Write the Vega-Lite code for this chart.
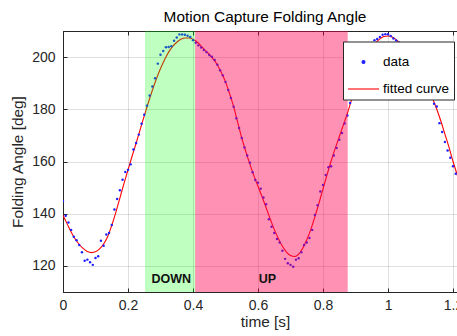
{
  "$schema": "https://vega.github.io/schema/vega-lite/v6.json",
  "autosize": {"type": "none"},
  "padding": {"left": 63, "top": 31, "right": 0, "bottom": 44},
  "width": 404,
  "height": 261,
  "background": "white",
  "title": {"text": "Motion Capture Folding Angle", "fontSize": 15.4, "fontWeight": "normal", "color": "#000000", "font": "Liberation Sans", "offset": 5, "anchor": "middle"},
  "datasets": {
    "dots": [
      {"t":0,"v":144.9},{"t":0.0083,"v":139.2},{"t":0.0167,"v":136.6},{"t":0.025,"v":133.8},{"t":0.0333,"v":131.2},{"t":0.0417,"v":129.8},{"t":0.05,"v":128},{"t":0.0583,"v":125.2},{"t":0.0667,"v":122},{"t":0.075,"v":122.4},
      {"t":0.0833,"v":121.4},{"t":0.0917,"v":120.4},{"t":0.1,"v":123},{"t":0.1083,"v":123.7},{"t":0.1167,"v":129.6},{"t":0.125,"v":127.7},{"t":0.1333,"v":132},{"t":0.1417,"v":132.6},{"t":0.15,"v":135.7},{"t":0.1583,"v":141.6},
      {"t":0.1667,"v":145.6},{"t":0.175,"v":149},{"t":0.1833,"v":153},{"t":0.1917,"v":156},{"t":0.2,"v":156.8},{"t":0.2083,"v":158.9},{"t":0.2167,"v":164.6},{"t":0.225,"v":167.1},{"t":0.2333,"v":170.3},{"t":0.2417,"v":174.5},
      {"t":0.25,"v":177.9},{"t":0.2583,"v":181.4},{"t":0.2667,"v":185.3},{"t":0.275,"v":188.7},{"t":0.2833,"v":191.9},{"t":0.2917,"v":197.5},{"t":0.3,"v":200.9},{"t":0.3083,"v":202.3},{"t":0.3167,"v":203.8},{"t":0.325,"v":203.9},
      {"t":0.3333,"v":204.2},{"t":0.3417,"v":206.3},{"t":0.35,"v":207.5},{"t":0.3583,"v":208.7},{"t":0.3667,"v":208.7},{"t":0.375,"v":208.6},{"t":0.3833,"v":208.2},{"t":0.3917,"v":207.7},{"t":0.4,"v":206.5},{"t":0.4083,"v":205.5},
      {"t":0.4167,"v":204.5},{"t":0.425,"v":203.7},{"t":0.4333,"v":202.7},{"t":0.4417,"v":201.9},{"t":0.45,"v":200.8},{"t":0.4583,"v":200.1},{"t":0.4667,"v":198.9},{"t":0.475,"v":197.1},{"t":0.4833,"v":195},{"t":0.4917,"v":193},
      {"t":0.5,"v":190.5},{"t":0.5083,"v":187.4},{"t":0.5167,"v":184.3},{"t":0.525,"v":181},{"t":0.5333,"v":176.6},{"t":0.5417,"v":172.8},{"t":0.55,"v":169},{"t":0.5583,"v":165.4},{"t":0.5667,"v":162.3},{"t":0.575,"v":159.5},
      {"t":0.5833,"v":155.9},{"t":0.5917,"v":152.9},{"t":0.6,"v":151.9},{"t":0.6083,"v":149.6},{"t":0.6167,"v":146.2},{"t":0.625,"v":143.6},{"t":0.6333,"v":137.9},{"t":0.6417,"v":135},{"t":0.65,"v":132.6},{"t":0.6583,"v":130.3},
      {"t":0.6667,"v":129},{"t":0.675,"v":125.8},{"t":0.6833,"v":122.7},{"t":0.6917,"v":121},{"t":0.7,"v":120.4},{"t":0.7083,"v":119.7},{"t":0.7167,"v":122.4},{"t":0.725,"v":122.9},{"t":0.7333,"v":125.2},{"t":0.7417,"v":128},
      {"t":0.75,"v":129},{"t":0.7583,"v":130.7},{"t":0.7667,"v":133.8},{"t":0.775,"v":139.5},{"t":0.7833,"v":143.2},{"t":0.7917,"v":148.5},{"t":0.8,"v":151},{"t":0.8083,"v":154.8},{"t":0.8167,"v":157.8},{"t":0.825,"v":158.2},
      {"t":0.8333,"v":162.3},{"t":0.8417,"v":165.2},{"t":0.85,"v":168.3},{"t":0.8583,"v":170.9},{"t":0.8667,"v":174.6},{"t":0.875,"v":177.6},{"t":0.8833,"v":182.4},{"t":0.8917,"v":186.2},{"t":0.9,"v":190},{"t":0.9083,"v":193.5},
      {"t":0.9167,"v":196.5},{"t":0.925,"v":199.3},{"t":0.9333,"v":201.8},{"t":0.9417,"v":203.8},{"t":0.95,"v":205.3},{"t":0.9583,"v":206.5},{"t":0.9667,"v":206.9},{"t":0.975,"v":207.7},{"t":0.9833,"v":208.6},{"t":0.9917,"v":208.8},
      {"t":1,"v":208.8},{"t":1.0083,"v":208.1},{"t":1.0167,"v":207.1},{"t":1.025,"v":206.4},{"t":1.0333,"v":205.6},{"t":1.0417,"v":204.5},{"t":1.05,"v":203.4},{"t":1.0583,"v":202},{"t":1.0667,"v":200.5},{"t":1.075,"v":198.8},
      {"t":1.0833,"v":197},{"t":1.0917,"v":195},{"t":1.1,"v":193},{"t":1.1083,"v":191},{"t":1.1167,"v":189.6},{"t":1.125,"v":188.7},{"t":1.1333,"v":185.8},{"t":1.1417,"v":182.1},{"t":1.15,"v":181.1},{"t":1.1583,"v":174.7},
      {"t":1.1667,"v":171.3},{"t":1.175,"v":167.5},{"t":1.1833,"v":164.2},{"t":1.1917,"v":161.4},{"t":1.2,"v":158.2},{"t":1.2083,"v":155.3},{"t":1.2167,"v":152}
    ],
    "curve": [
      {"t":0,"v":139.4},{"t":0.0125,"v":136.2},{"t":0.025,"v":133},{"t":0.0375,"v":130.3},{"t":0.05,"v":128.2},{"t":0.0625,"v":126.6},{"t":0.075,"v":125.5},{"t":0.0875,"v":125.1},{"t":0.1,"v":125.4},{"t":0.1125,"v":126.5},
      {"t":0.125,"v":128.4},{"t":0.1375,"v":131.3},{"t":0.15,"v":135.5},{"t":0.1625,"v":140.5},{"t":0.175,"v":146},{"t":0.1875,"v":151.5},{"t":0.2,"v":156.8},{"t":0.2125,"v":162},{"t":0.225,"v":167},{"t":0.2375,"v":172.3},
      {"t":0.25,"v":177.5},{"t":0.2625,"v":182.5},{"t":0.275,"v":187.3},{"t":0.2875,"v":191.7},{"t":0.3,"v":195.6},{"t":0.3125,"v":199},{"t":0.325,"v":201.9},{"t":0.3375,"v":204.1},{"t":0.35,"v":205.7},{"t":0.3625,"v":206.8},
      {"t":0.375,"v":207.3},{"t":0.3875,"v":207.3},{"t":0.4,"v":206.8},{"t":0.4125,"v":205.8},{"t":0.425,"v":204.2},{"t":0.4375,"v":202.6},{"t":0.45,"v":201},{"t":0.4625,"v":199.2},{"t":0.475,"v":197},{"t":0.4875,"v":194},
      {"t":0.5,"v":190.5},{"t":0.5125,"v":186},{"t":0.525,"v":181},{"t":0.5375,"v":175},{"t":0.55,"v":169},{"t":0.5625,"v":163.8},{"t":0.575,"v":159},{"t":0.5875,"v":154.5},{"t":0.6,"v":150.5},{"t":0.6125,"v":146.5},
      {"t":0.625,"v":142.3},{"t":0.6375,"v":138},{"t":0.65,"v":134},{"t":0.6625,"v":130.5},{"t":0.675,"v":127.5},{"t":0.6875,"v":125.3},{"t":0.7,"v":124},{"t":0.7125,"v":123.6},{"t":0.725,"v":124.5},{"t":0.7375,"v":126.8},
      {"t":0.75,"v":130},{"t":0.7625,"v":134},{"t":0.775,"v":138.8},{"t":0.7875,"v":144},{"t":0.8,"v":149.5},{"t":0.8125,"v":155},{"t":0.825,"v":160.2},{"t":0.8375,"v":165},{"t":0.85,"v":169.5},{"t":0.8625,"v":174},
      {"t":0.875,"v":178.5},{"t":0.8875,"v":183.5},{"t":0.9,"v":188.5},{"t":0.9125,"v":193},{"t":0.925,"v":197},{"t":0.9375,"v":200.5},{"t":0.95,"v":203.3},{"t":0.9625,"v":205.5},{"t":0.975,"v":207},{"t":0.9875,"v":207.9},
      {"t":1,"v":208.1},{"t":1.0125,"v":207.7},{"t":1.025,"v":206.7},{"t":1.0375,"v":205.3},{"t":1.05,"v":203.5},{"t":1.0625,"v":201.3},{"t":1.075,"v":198.7},{"t":1.0875,"v":195.8},{"t":1.1,"v":192.5},{"t":1.1125,"v":190},
      {"t":1.125,"v":187.3},{"t":1.1375,"v":184},{"t":1.15,"v":180},{"t":1.1625,"v":175.5},{"t":1.175,"v":170.5},{"t":1.1875,"v":165.5},{"t":1.2,"v":160},{"t":1.2125,"v":155},{"t":1.225,"v":149.5}
    ],
    "phases": [
      {"phase":"DOWN","start":0.2523,"end":0.4065,"lx":0.333,"ly":114.9},
      {"phase":"UP","start":0.4065,"end":0.876,"lx":0.6287,"ly":114.9}
    ]
  },
  "layer": [
    {
      "data": {"name": "curve"},
      "mark": {"type": "line", "strokeWidth": 1.1, "interpolate": "monotone", "clip": true},
      "encoding": {
        "x": {"field": "t", "type": "quantitative", "scale": {"domain": [0, 1.243], "nice": false, "zero": false},
              "axis": {"orient": "bottom", "values": [0, 0.2, 0.4, 0.6, 0.8, 1, 1.2], "format": "~g", "title": "time [s]", "grid": true}},
        "y": {"field": "v", "type": "quantitative", "scale": {"domain": [110, 210], "nice": false, "zero": false},
              "axis": {"values": [120, 140, 160, 180, 200], "title": "Folding Angle [deg]", "grid": true, "titleX": -38}},
        "color": {"datum": "fitted curve", "type": "nominal",
                  "scale": {"domain": ["data", "fitted curve"], "range": ["#1f1fff", "#ff0000"]},
                  "legend": {
                    "orient": "none", "legendX": 280, "legendY": 10.5, "title": null,
                    "fillColor": "white", "strokeColor": "#262626", "padding": 4,
                    "labelFontSize": 13.5, "labelFont": "Liberation Sans", "labelColor": "#000000",
                    "labelOffset": 3, "rowPadding": 4, "symbolSize": 961, "symbolStrokeWidth": 1.1,
                    "encode": {"symbols": {"update": {
                      "shape": {"signal": "datum.value === 'data' ? 'circle' : 'stroke'"},
                      "size": {"signal": "datum.value === 'data' ? 9 : 961"},
                      "fill": {"signal": "datum.value === 'data' ? '#1f1fff' : 'transparent'"},
                      "stroke": {"signal": "datum.value === 'data' ? 'transparent' : '#ff0000'"},
                      "strokeWidth": {"value": 1.1},
                      "opacity": {"value": 1}
                    }}}
                  }}
      }
    },
    {
      "data": {"name": "dots"},
      "mark": {"type": "point", "filled": true, "size": 6, "opacity": 1, "clip": true},
      "encoding": {
        "x": {"field": "t", "type": "quantitative", "axis": null},
        "y": {"field": "v", "type": "quantitative"},
        "color": {"datum": "data", "type": "nominal"}
      }
    },
    {
      "data": {"name": "phases"},
      "mark": {"type": "rect"},
      "encoding": {
        "x": {"field": "start", "type": "quantitative",
              "axis": {"orient": "top", "values": [0, 0.2, 0.4, 0.6, 0.8, 1, 1.2], "labels": false, "title": null, "grid": false}},
        "x2": {"field": "end"},
        "y": {"datum": 110, "type": "quantitative"},
        "y2": {"datum": 210},
        "fill": {"condition": {"test": "datum.phase === 'DOWN'", "value": "#00ff00"}, "value": "#ff0050"},
        "fillOpacity": {"condition": {"test": "datum.phase === 'DOWN'", "value": 0.25}, "value": 0.43}
      }
    },
    {
      "data": {"name": "phases"},
      "mark": {"type": "text", "fontWeight": "bold", "fontSize": 12.5, "font": "Liberation Sans", "color": "#111111", "align": "center", "baseline": "middle"},
      "encoding": {
        "x": {"field": "lx", "type": "quantitative", "axis": null},
        "y": {"field": "ly", "type": "quantitative"},
        "text": {"field": "phase"}
      }
    }
  ],
  "resolve": {"axis": {"x": "independent"}},
  "config": {
    "font": "Liberation Sans",
    "view": {"stroke": "#262626", "strokeWidth": 1},
    "axis": {
      "zindex": 1,
      "domainColor": "#262626",
      "tickColor": "#262626",
      "tickSize": -4,
      "labelFontSize": 14,
      "labelColor": "#262626",
      "labelFont": "Liberation Sans",
      "titleFontSize": 15.4,
      "titleFontWeight": "normal",
      "titleColor": "#262626",
      "titleFont": "Liberation Sans",
      "gridColor": "#262626",
      "gridOpacity": 0.15,
      "labelFlush": false,
      "labelOverlap": false
    },
    "axisX": {"labelPadding": 10, "titlePadding": 2},
    "axisY": {"labelPadding": 12}
  }
}
